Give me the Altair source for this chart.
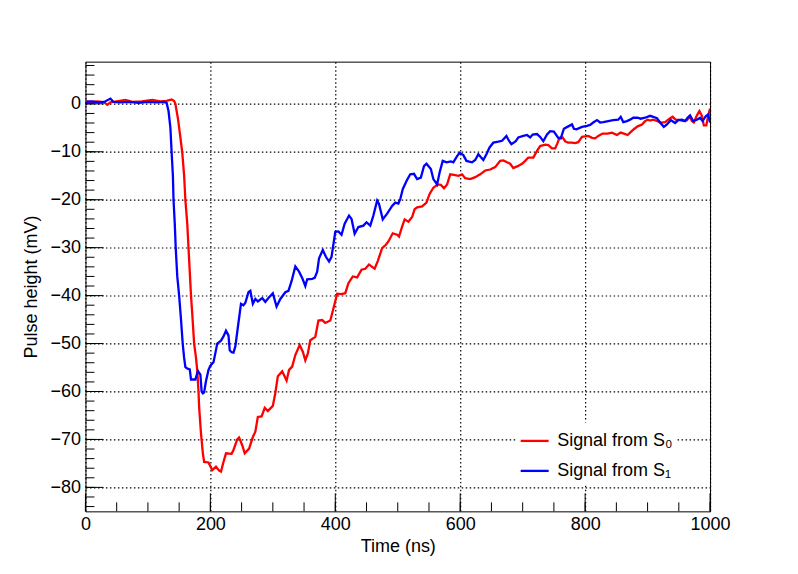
import altair as alt
import pandas as pd

# Signal from S0 (red): (time ns, pulse height mV)
red_points = [
    (0, 0.5), (10, 0.4), (20, 0.5), (30, 0.3), (35, -0.2), (40, 0.3), (50, 0.5), (64, 0.8),
    (75, 0.4), (90, 0.5), (107, 0.8), (120, 0.5), (130, 0.6), (138, 0.9), (142, 0.6), (144, 0.0),
    (148, -3), (152, -7), (155, -10.2), (158, -15), (160, -20.1), (163, -25), (165, -30.1),
    (167, -35), (169, -40), (171, -43.8), (174, -50), (177, -53), (179, -55.6), (181, -60),
    (182, -63.2), (185, -68.8), (188, -72.9), (190, -74.7), (197, -74.8), (203, -76.4),
    (209, -75.7), (214, -76.5), (217, -76.7), (221, -74.7), (225, -72.9), (234, -73),
    (237, -72.2), (243, -70), (246, -69.6), (251, -71.2), (255, -72.9), (262, -71.9),
    (268, -69.5), (272, -68.4), (276, -65.3), (282, -65.2), (287, -63.4), (292, -64.1),
    (300, -63), (304, -60.3), (308, -56.8), (315, -55.8), (322, -57.7), (326, -55.5),
    (331, -54.8), (336, -52.4), (343, -50.3), (348, -51.7), (352, -53.5), (356, -52.1),
    (360, -49.3), (368, -48.6), (373, -45.2), (379, -45.1), (384, -45.7), (392, -45.2),
    (397, -42.7), (403, -39.6), (410, -39.7), (416, -39.5), (421, -37.4), (428, -36),
    (435, -36.2), (442, -34.6), (448, -34.4), (454, -33.5), (459, -34), (463, -34.4),
    (468, -32.8), (475, -30.1), (481, -29.4), (485, -28.7), (492, -27), (499, -27.3),
    (502, -27.7), (507, -25.6), (511, -24.1), (517, -24.6), (523, -23.6), (527, -22),
    (531, -21.6), (539, -21.4), (546, -20.6), (551, -18.8), (557, -17.5), (564, -16.8),
    (569, -16.9), (574, -17.6), (579, -16.8), (584, -14.7), (590, -14.8), (597, -15),
    (603, -14.7), (608, -15.5), (616, -15.7), (624, -15.3), (632, -14.7), (640, -13.9),
    (648, -13.7), (656, -13.2), (664, -11.9), (669, -11.8), (675, -12.2), (680, -12.5),
    (685, -13.4), (692, -13), (699, -12.5), (704, -11.9), (709, -11.2), (717, -11.2),
    (723, -9.8), (728, -8.8), (736, -8.5), (741, -8.6), (747, -9.3), (752, -9.3),
    (755, -8.4), (759, -7.1), (764, -7.0), (768, -7.8), (773, -8.1), (779, -8.1),
    (784, -8.2), (789, -8.0), (795, -6.9), (800, -6.8), (805, -6.7), (811, -7.1),
    (816, -7.2), (821, -6.7), (828, -6.2), (836, -6.2), (843, -6.0), (851, -6.5),
    (857, -6.0), (862, -6.2), (868, -6.5), (872, -6.0), (878, -5.3), (884, -4.7),
    (891, -4.3), (896, -3.6), (900, -3.3), (904, -3.5), (909, -3.3), (916, -3.6),
    (921, -3.9), (928, -3.8), (935, -3.1), (940, -2.7), (945, -3.3), (952, -3.4),
    (957, -3.6), (963, -3.4), (967, -2.7), (971, -3.6), (974, -3.9), (979, -2.4),
    (983, -1.5), (987, -2.5), (990, -4.5), (994, -4.5), (997, -2.5), (1000, -1.0),
]

# Signal from S1 (blue)
blue_points = [
    (0, 0.4), (10, 0.5), (20, 0.3), (30, 0.4), (40, 1.1), (45, 0.4), (55, 0.3), (70, 0.4),
    (85, 0.2), (100, 0.4), (115, 0.3), (125, 0.4), (130, 0.2), (133, -1.5), (136, -5),
    (138, -10.2), (140, -15), (141, -20), (143, -25), (144.5, -30), (147, -36), (150, -40),
    (153, -45), (155.7, -50), (158, -53), (160, -54.9), (163, -55.2), (167, -55.4),
    (169, -57.5), (176, -57.5), (180, -55.7), (184, -56.5), (186, -60), (188, -60.4),
    (190, -60.2), (193, -57.8), (197, -55.5), (200, -54.6), (205, -53.9), (208, -52),
    (211, -50), (217, -49.4), (221, -48.5), (225, -47.3), (229, -48.3), (231, -51.4),
    (234, -51.8), (237, -51.9), (240, -50.6), (244, -46.6), (249, -41.7), (253, -42),
    (256, -41.5), (261, -39.3), (264, -39), (268, -41.7), (272, -40.7), (276, -41.2),
    (283, -40.5), (288, -41.3), (293, -40.5), (300, -39.5), (306, -42.3), (312, -40.7),
    (320, -39.3), (325, -39), (330, -37), (336, -33.9), (342, -35), (347, -36.3),
    (352, -38), (355, -36.6), (363, -36.5), (367, -36.3), (371, -35), (374, -32.2),
    (380, -30.5), (385, -31.9), (390, -32.9), (394, -31.9), (400, -26.7), (405, -26.6),
    (410, -27.3), (415, -25), (422, -23.3), (426, -24), (431, -27.1), (437, -25.7),
    (445, -25.4), (450, -24.7), (456, -25.4), (461, -23.3), (467, -20.2), (470, -20.9),
    (476, -24.1), (483, -22.9), (491, -21.3), (496, -20.6), (501, -20.8), (504, -19.9),
    (508, -17.8), (514, -16.1), (520, -14.7), (526, -14.6), (531, -15.7), (537, -15.4),
    (542, -13), (546, -12.5), (553, -13.6), (557, -15.7), (563, -16.8), (567, -14.3),
    (572, -11.9), (578, -12.2), (585, -12), (589, -12.2), (595, -10.9), (599, -10.2),
    (605, -10.7), (610, -11.9), (619, -12.2), (624, -11.7), (629, -10.5), (637, -11.7),
    (642, -10.5), (647, -9.1), (653, -8.1), (661, -7.9), (667, -7.7), (674, -6.7),
    (678, -7.7), (682, -8.4), (689, -7.8), (693, -7), (701, -6.7), (707, -6.5),
    (712, -7), (716, -6.4), (723, -6.3), (728, -6.9), (733, -7.8), (739, -6.4),
    (744, -5.7), (750, -5.8), (757, -7.1), (761, -7.2), (766, -5.2), (773, -4.7),
    (779, -4.3), (782, -5.2), (786, -5.3), (795, -4.8), (803, -4.6), (808, -4.4),
    (813, -3.9), (819, -3.4), (824, -3.9), (829, -3.8), (837, -3.6), (845, -3.4),
    (853, -3.3), (857, -2.7), (861, -3.8), (867, -3.6), (872, -3.3), (877, -2.9),
    (884, -2.9), (889, -3.1), (896, -2.9), (904, -2.5), (909, -2.7), (915, -3.0),
    (920, -3.9), (926, -4.8), (931, -4.3), (937, -3.4), (944, -4.0), (949, -3.4),
    (955, -3.3), (960, -3.6), (964, -2.9), (968, -2.4), (973, -3.6), (979, -3.3),
    (984, -2.9), (988, -3.6), (993, -2.6), (997, -2.2), (1000, -3.9),
]

series_names = ["Signal from S₀", "Signal from S₁"]
series_colors = ["#ff0000", "#0000ff"]

x_minor_ticks = list(range(0, 1001, 50))
x_major_ticks = list(range(0, 1001, 200))
y_minor_ticks = list(range(-84, 9, 2))
y_major_ticks = list(range(-80, 1, 10))

W, H = 625, 450
FONT = "Liberation Sans"

df = pd.concat([
    pd.DataFrame(red_points, columns=["t", "v"]).assign(series=series_names[0]),
    pd.DataFrame(blue_points, columns=["t", "v"]).assign(series=series_names[1]),
])

xscale = alt.Scale(domain=[0, 1000], nice=False, zero=False)
yscale = alt.Scale(domain=[-85, 8.8], nice=False, zero=False)

common_axis = dict(
    grid=True, gridDash=[1.5, 2.5], gridColor="black", gridOpacity=1, gridWidth=1.2,
    ticks=False, tickSize=0, domain=False, format="d",
    labelFont=FONT, labelFontSize=18, labelColor="black",
    titleFont=FONT, titleFontSize=18, titleFontWeight="normal", titleColor="black",
    labelFlush=False, labelOverlap=False,
)
x_axis = alt.Axis(values=x_major_ticks, title="Time (ns)", labelPadding=4,
                  titlePadding=4, **common_axis)
y_axis = alt.Axis(values=y_major_ticks, title="Pulse height (mV)", labelPadding=5,
                  titlePadding=9, **common_axis)

lines = alt.Chart(df).mark_line(strokeWidth=2.3, clip=True).encode(
    x=alt.X("t:Q", scale=xscale, axis=x_axis),
    y=alt.Y("v:Q", scale=yscale, axis=y_axis),
    color=alt.Color("series:N",
                    scale=alt.Scale(domain=series_names, range=series_colors),
                    legend=alt.Legend(title=None, orient="none", legendX=431, legendY=361,
                                      symbolType="stroke", symbolSize=784, symbolStrokeWidth=2.3,
                                      labelFont=FONT, labelFontSize=18, labelColor="black",
                                      labelOffset=7, padding=3, rowPadding=5,
                                      fillColor="white", strokeColor="white")),
    order="t:Q",
)

def xrules(vals, length):
    return alt.Chart(pd.DataFrame({"t": vals})).mark_rule(color="black", strokeWidth=1).encode(
        x=alt.X("t:Q", scale=xscale, axis=x_axis),
        y=alt.value(H), y2=alt.value(H - length),
    )

def yrules(vals, length):
    return alt.Chart(pd.DataFrame({"v": vals})).mark_rule(color="black", strokeWidth=1).encode(
        y=alt.Y("v:Q", scale=yscale, axis=y_axis),
        x=alt.value(0), x2=alt.value(length),
    )

chart = alt.layer(
    lines,
    xrules(x_minor_ticks, 9), xrules(x_major_ticks, 18),
    yrules(y_minor_ticks, 9), yrules(y_major_ticks, 18),
).properties(
    width=W, height=H,
    autosize=alt.AutoSizeParams(type="none"),
    padding={"left": 77.5, "top": 53.5, "right": 80, "bottom": 55},
    background="white",
).configure_view(stroke="black", strokeWidth=1)

chart.save("out.html", embed_options={"renderer": "svg", "actions": False})
